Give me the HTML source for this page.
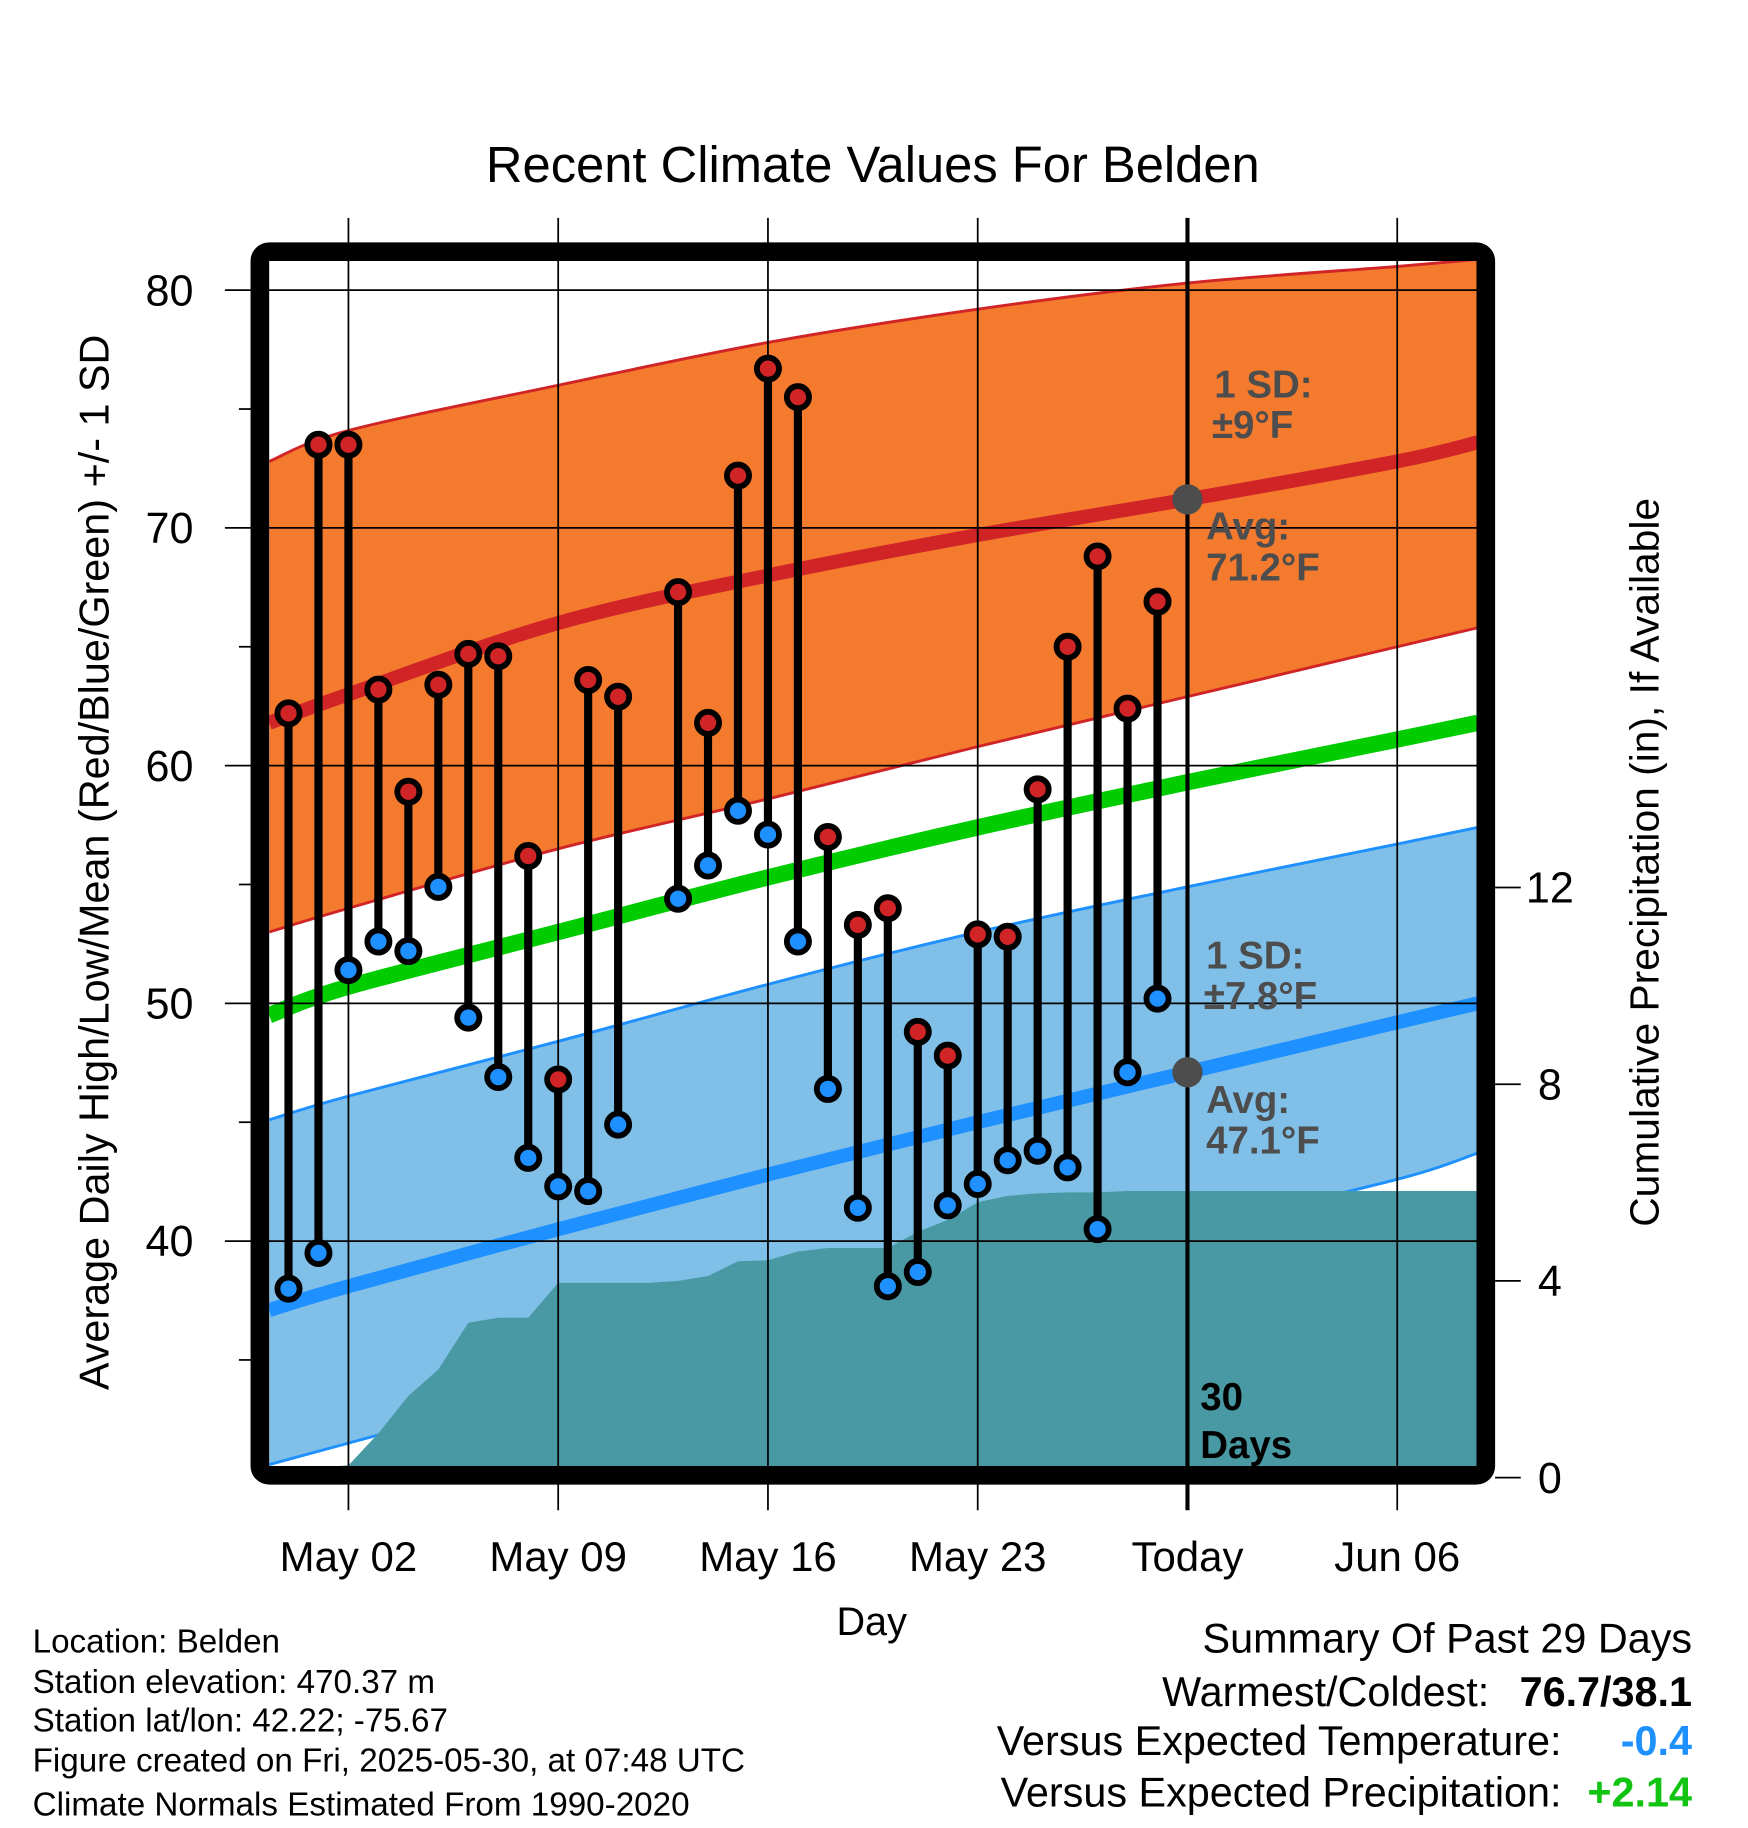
<!DOCTYPE html>
<html><head><meta charset="utf-8"><style>
html,body{margin:0;padding:0;background:#fff;}
svg{display:block;font-family:"Liberation Sans",sans-serif;}
</style></head><body>
<svg id="chart" xmlns="http://www.w3.org/2000/svg" width="1748" height="1828" viewBox="0 0 1500 1568.65">
<text x="749" y="156" font-size="43.5" text-anchor="middle">Recent Climate Values For Belden</text>
<g id="bands"></g>
<g id="precip"></g>
<g id="grid"></g>
<g id="marks"></g>
<g id="frame"></g>
<g id="labels"></g>
<text x="748" y="1403" font-size="34" text-anchor="middle">Day</text>
<text transform="translate(93,740) rotate(-90)" font-size="35.5" text-anchor="middle">Average Daily High/Low/Mean (Red/Blue/Green) +/- 1 SD</text>
<text transform="translate(1423,740) rotate(-90)" font-size="35" text-anchor="middle">Cumulative Precipitation (in), If Available</text>
<g font-size="28.5">
<text x="28" y="1418">Location: Belden</text>
<text x="28" y="1453">Station elevation: 470.37 m</text>
<text x="28" y="1486">Station lat/lon: 42.22; -75.67</text>
<text x="28" y="1520">Figure created on Fri, 2025-05-30, at 07:48 UTC</text>
<text x="28" y="1558">Climate Normals Estimated From 1990-2020</text>
</g>
<g font-size="35.5">
<text x="1452" y="1418" text-anchor="end">Summary Of Past 29 Days</text>
<text x="1278" y="1464" text-anchor="end">Warmest/Coldest:</text>
<text x="1452" y="1464" text-anchor="end" font-weight="bold">76.7/38.1</text>
<text x="1340" y="1506" text-anchor="end">Versus Expected Temperature:</text>
<text x="1452" y="1506" text-anchor="end" font-weight="bold" fill="#1e90ff">-0.4</text>
<text x="1340" y="1550" text-anchor="end">Versus Expected Precipitation:</text>
<text x="1452" y="1550" text-anchor="end" font-weight="bold" fill="#11c411">+2.14</text>
</g>
</svg>
<script>
// day index: 0 = May 02
const normDays = [-2.65, 0, 7, 14, 21, 28, 35, 37.7];
const highUpper = [72.8, 74.1, 76.0, 77.8, 79.2, 80.3, 81.0, 81.3];
const highAvg = [61.8, 63.0, 66.0, 68.0, 69.7, 71.2, 72.8, 73.6];
const highLower = [53.0, 54.0, 56.5, 58.6, 60.8, 62.9, 65.0, 65.8];
const meanAvg = [49.5, 50.7, 53.0, 55.3, 57.4, 59.3, 61.1, 61.8];
const lowUpper = [45.1, 46.1, 48.4, 50.8, 53.0, 54.9, 56.7, 57.4];
const lowAvg = [37.1, 38.1, 40.5, 42.8, 45.0, 47.1, 49.2, 50.0];
const lowLower = [30.6, 31.5, 33.9, 36.2, 38.5, 40.5, 42.6, 43.7];
const obsDays = [-2,-1,0,1,2,3,4,5,6,7,8,9,11,12,13,14,15,16,17,18,19,20,21,22,23,24,25,26,27];
const highs = [62.2,73.5,73.5,63.2,58.9,63.4,64.7,64.6,56.2,46.8,63.6,62.9,67.3,61.8,72.2,76.7,75.5,57.0,53.3,54.0,48.8,47.8,52.9,52.8,59.0,65.0,68.8,62.4,66.9];
const lows = [38.0,39.5,51.4,52.6,52.2,54.9,49.4,46.9,43.5,42.3,42.1,44.9,54.4,55.8,58.1,57.1,52.6,46.4,41.4,38.1,38.7,41.5,42.4,43.4,43.8,43.1,40.5,47.1,50.2];
const precipDays = [-0.35,0,1,2,3,4,5,6,7,8,9,10,11,12,13,14,15,16,17,18,19,20,21,22,23,24,25,26,27];
const precipCum = [0,0.25,0.9,1.66,2.2,3.15,3.25,3.25,3.96,3.96,3.96,3.96,4.0,4.1,4.4,4.42,4.6,4.67,4.67,4.67,5.0,5.24,5.6,5.73,5.78,5.8,5.8,5.83,5.83];
const yTicks = [40,50,60,70,80];
const y2Ticks = [0,4,8,12];
const xTickDays = [0,7,14,21,28,35];
const xTickLabels = ["May 02","May 09","May 16","May 23","Today","Jun 06"];

const L=231,R=1268,T=224,B=1258;
const X = d => 299 + d*180/7;
const Y = v => 249 + (80-v)*20.4;
const Y2 = p => 1268 - p*42.2;
const NS="http://www.w3.org/2000/svg";
function mk(tag, parent, attrs){const e=document.createElementNS(NS,tag);for(const k in attrs)e.setAttribute(k,attrs[k]);parent.appendChild(e);return e;}
const cx = d => Math.min(R,Math.max(L,X(d)));
// smooth path through points via Catmull-Rom -> Bezier
function smooth(days, vals, move){
  const P = days.map((d,i)=>[cx(d), Y(vals[i])]);
  let s = (move?'M':'L')+P[0][0].toFixed(1)+','+P[0][1].toFixed(1);
  for(let i=0;i<P.length-1;i++){
    const p0=P[Math.max(0,i-1)],p1=P[i],p2=P[i+1],p3=P[Math.min(P.length-1,i+2)];
    const c1=[p1[0]+(p2[0]-p0[0])/6, p1[1]+(p2[1]-p0[1])/6];
    const c2=[p2[0]-(p3[0]-p1[0])/6, p2[1]-(p3[1]-p1[1])/6];
    s+=' C'+c1.map(v=>v.toFixed(1)).join(',')+' '+c2.map(v=>v.toFixed(1)).join(',')+' '+p2.map(v=>v.toFixed(1)).join(',');
  }
  return s;
}
function band(up, lo, fill, name){
  const rd=normDays.slice().reverse(), rl=lo.slice().reverse();
  const d = smooth(normDays, up, true)+' '+smooth(rd, rl, false)+' Z';
  const el = mk('path', document.getElementById('bands'), {d:d, fill:fill});
  
  
}
function line(vals, color, w, name){
  const el = mk('path', document.getElementById('bands'), {d:smooth(normDays, vals, true), fill:'none', stroke:color, 'stroke-width':w});
  
  
}
const bg=document.getElementById('bands');
const clip = mk('clipPath', bg, {id:'pc'}); mk('rect', clip, {x:L,y:T,width:R-L,height:B-T});
bg.setAttribute('clip-path','url(#pc)');
band(highUpper, highLower, '#f47a2e', 'high-sd-band');
line(highUpper, '#d02427', 2.5, 'high-upper-edge');
line(highLower, '#d02427', 2.5, 'high-lower-edge');
line(highAvg, '#d02427', 12, 'high-average-line');
band(lowUpper, lowLower, '#80c0e8', 'low-sd-band');
line(lowUpper, '#1e90ff', 2.5, 'low-upper-edge');
line(lowLower, '#1e90ff', 2.5, 'low-lower-edge');
line(meanAvg, '#00cc00', 14, 'mean-average-line');
line(lowAvg, '#1e90ff', 12, 'low-average-line');

// precipitation area
const pg=document.getElementById('precip');
pg.setAttribute('clip-path','url(#pc)');
let pp=[L+','+B];
precipDays.forEach((d,i)=>pp.push(X(d).toFixed(1)+','+Math.min(B,Y2(precipCum[i])).toFixed(1)));
pp.push(R+','+Y2(precipCum[precipCum.length-1]).toFixed(1)); pp.push(R+','+B);
const pa = mk('polygon', pg, {points:pp.join(' '), fill:'#4899a3'});



// grid and ticks
const gg=document.getElementById('grid');
const lab=document.getElementById('labels');
yTicks.forEach(v=>{
  const g = mk('line', gg, {x1:193,x2:R,y1:Y(v),y2:Y(v),stroke:'#000','stroke-width':1.5});
  
  
  const t = mk('text', lab, {x:166,y:Y(v)+13,'font-size':37,'text-anchor':'end'});
  t.textContent=v;
  
  
});
[35,45,55,65,75].forEach(v=>{
  const m = mk('line', gg, {x1:205,x2:215,y1:Y(v),y2:Y(v),stroke:'#000','stroke-width':1.5});
  
  
});
y2Ticks.forEach(p=>{
  const m = mk('line', gg, {x1:1283,x2:1305,y1:Y2(p),y2:Y2(p),stroke:'#000','stroke-width':1.5});
  
  
  const t = mk('text', lab, {x:1330,y:Y2(p)+13,'font-size':37,'text-anchor':'middle'});
  t.textContent=p;
  
  
});
xTickDays.forEach((d,i)=>{
  const isToday = xTickLabels[i]==='Today';
  const g = mk('line', gg, {x1:X(d),x2:X(d),y1:187,y2:1296,stroke:'#000','stroke-width':isToday?3.5:1.5});
  
  
  const t = mk('text', lab, {x:X(d),y:1348,'font-size':36,'text-anchor':'middle'});
  t.textContent=xTickLabels[i];
  
  
});

// marks
const mg=document.getElementById('marks');
obsDays.forEach((d,i)=>{
  const s = mk('line', mg, {x1:X(d),x2:X(d),y1:Y(highs[i]),y2:Y(lows[i]),stroke:'#000','stroke-width':7});
  
  
});
obsDays.forEach((d,i)=>{
  const h = mk('circle', mg, {cx:X(d),cy:Y(highs[i]),r:9.5,fill:'#d02427',stroke:'#000','stroke-width':5});
  
  
  const l = mk('circle', mg, {cx:X(d),cy:Y(lows[i]),r:9.5,fill:'#1e90ff',stroke:'#000','stroke-width':5});
  
  
});
const todayIdx = normDays.indexOf(28);
const d1 = mk('circle', mg, {cx:X(28),cy:Y(highAvg[todayIdx]),r:13,fill:'#4d4d4d'});


const d2 = mk('circle', mg, {cx:X(28),cy:Y(lowAvg[todayIdx]),r:13,fill:'#4d4d4d'});



// annotations
[["1 SD:",1042,341,'#4d4d4d'],["±9°F",1040,376,'#4d4d4d'],["Avg:",1035,463,'#4d4d4d'],["71.2°F",1035,498,'#4d4d4d'],
 ["1 SD:",1035,831,'#4d4d4d'],["±7.8°F",1033,866,'#4d4d4d'],["Avg:",1035,955,'#4d4d4d'],["47.1°F",1035,990,'#4d4d4d'],
 ["30",1030,1210,'#000'],["Days",1030,1251,'#000']].forEach(a=>{
  const t = mk('text', lab, {x:a[1],y:a[2],'font-size':33,'font-weight':'bold',fill:a[3]});
  t.textContent=a[0];
  
  
});

// frame
const fr = mk('rect', document.getElementById('frame'), {x:223,y:216,width:1052,height:1050,rx:8,fill:'none',stroke:'#000','stroke-width':16});


</script>
</body></html>
